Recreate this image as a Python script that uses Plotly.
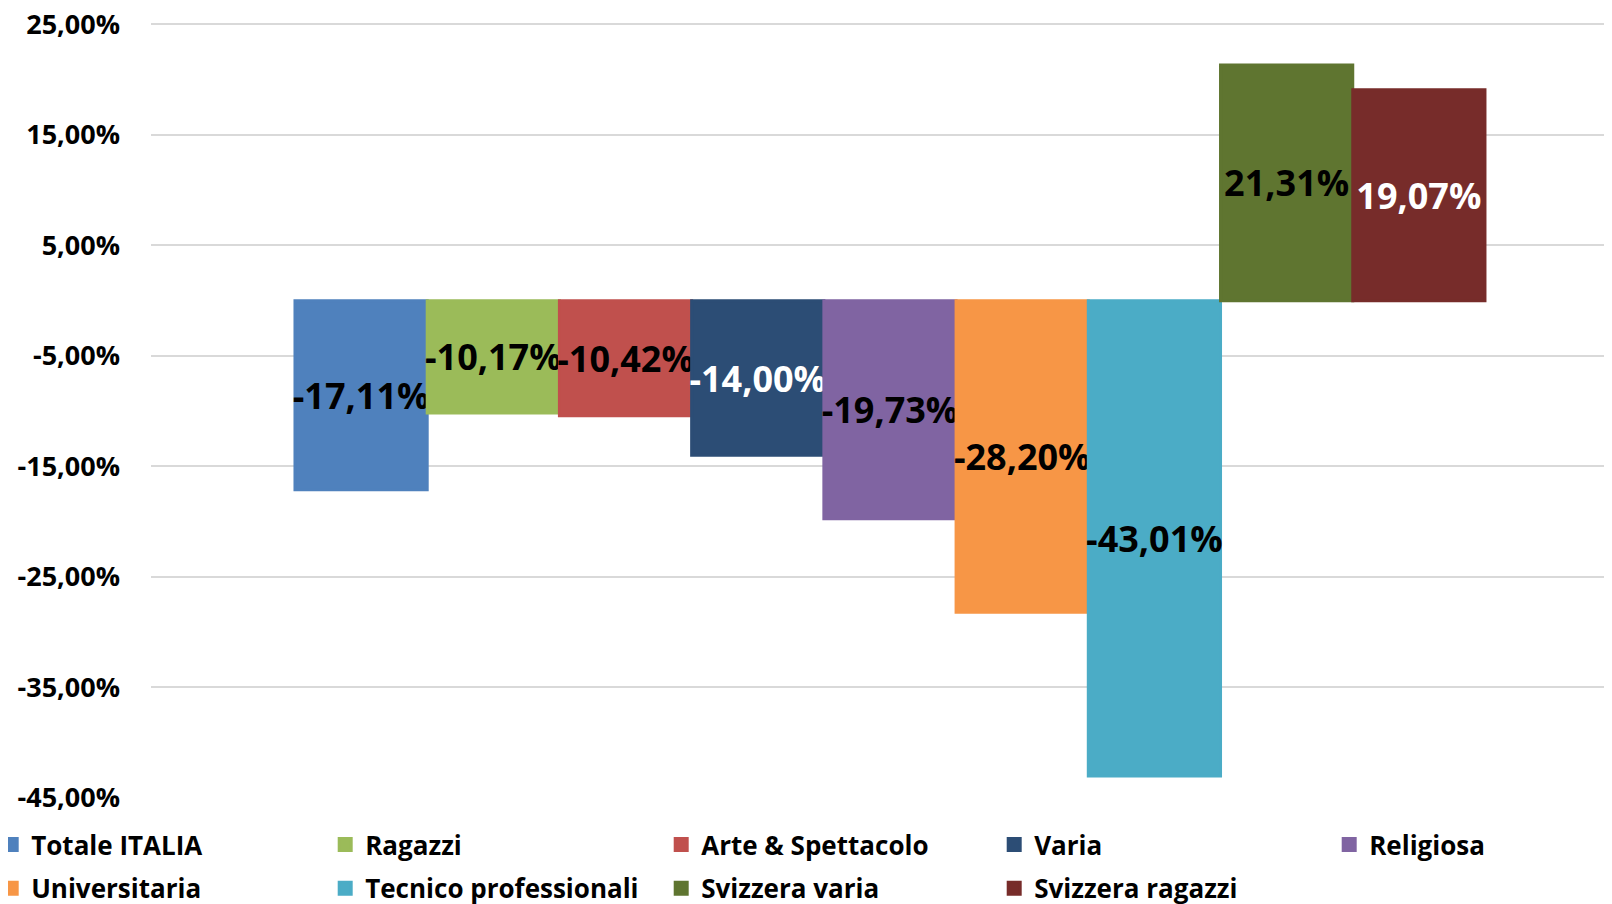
import plotly.graph_objects as go

series = ["Totale ITALIA", "Ragazzi", "Arte & Spettacolo", "Varia", "Religiosa",
          "Universitaria", "Tecnico professionali", "Svizzera varia", "Svizzera ragazzi"]
values = [-17.11, -10.17, -10.42, -14.00, -19.73, -28.20, -43.01, 21.31, 19.07]
colors = ["#4F81BD", "#9BBB59", "#C0504D", "#2C4D75", "#8064A2",
          "#F79646", "#4BACC6", "#5F7530", "#772C2A"]
label_colors = ["black", "black", "black", "white", "black", "black", "black", "black", "white"]
tick_vals = [25, 15, 5, -5, -15, -25, -35, -45]
tick_text = ["25,00%", "15,00%", "5,00%", "-5,00%", "-15,00%", "-25,00%", "-35,00%", "-45,00%"]

FONT = "Open Sans"
# the page body adds an 8px offset, so the figure is sized to end at the window edge
W, H = 1604, 896
ML, MR, MT, MB = 143, 0, 13, 106
PW = W - ML - MR
PH = H - MT - MB

fig = go.Figure()
legend_names = ["legend", "legend2", "legend3", "legend4", "legend5"]
for i, (name, v, c, lc) in enumerate(zip(series, values, colors, label_colors)):
    fig.add_trace(go.Bar(
        x=[0], y=[v], name=name,
        marker=dict(color=c, line=dict(color=c, width=3)),
        texttemplate="%{y:.2f}%",
        textposition="inside",
        insidetextanchor="middle",
        constraintext="none",
        textangle=0,
        insidetextfont=dict(family=FONT, size=36, color=lc, weight="bold"),
        legend=legend_names[i % 5],
        legendgroup=name,
        hoverinfo="skip",
    ))

sq_left = [3, 337, 673, 1006, 1341]
legend_common = dict(
    yref="paper", y=-23 / PH, yanchor="top", xanchor="left",
    orientation="v", bgcolor="rgba(0,0,0,0)", borderwidth=0,
    font=dict(family=FONT, size=26, color="black", weight="bold"),
    tracegroupgap=7, traceorder="grouped",
)
legends = {}
for k, nm in enumerate(legend_names):
    legends[nm] = dict(legend_common, x=(sq_left[k] - 19.8 - ML) / PW)

fig.update_layout(
    width=W, height=H,
    margin=dict(l=ML, r=MR, t=MT, b=MB, autoexpand=False),
    paper_bgcolor="white", plot_bgcolor="white",
    separators=",.",
    barmode="group", bargap=0.1855, bargroupgap=0,
    showlegend=True,
    xaxis=dict(type="linear", range=[-0.5058, 0.4942], showticklabels=False,
               showgrid=False, zeroline=False, showline=False, ticks=""),
    yaxis=dict(range=[-45, 25.3], tickvals=tick_vals, ticktext=tick_text,
               showgrid=True, gridcolor="#D9D9D9", gridwidth=2,
               zeroline=False, showline=False, ticks="",
               ticklabelstandoff=30, ticklabeloverflow="allow",
               tickfont=dict(family=FONT, size=27, color="black", weight="bold")),
    **legends,
)

fig.write_html("out.html")
